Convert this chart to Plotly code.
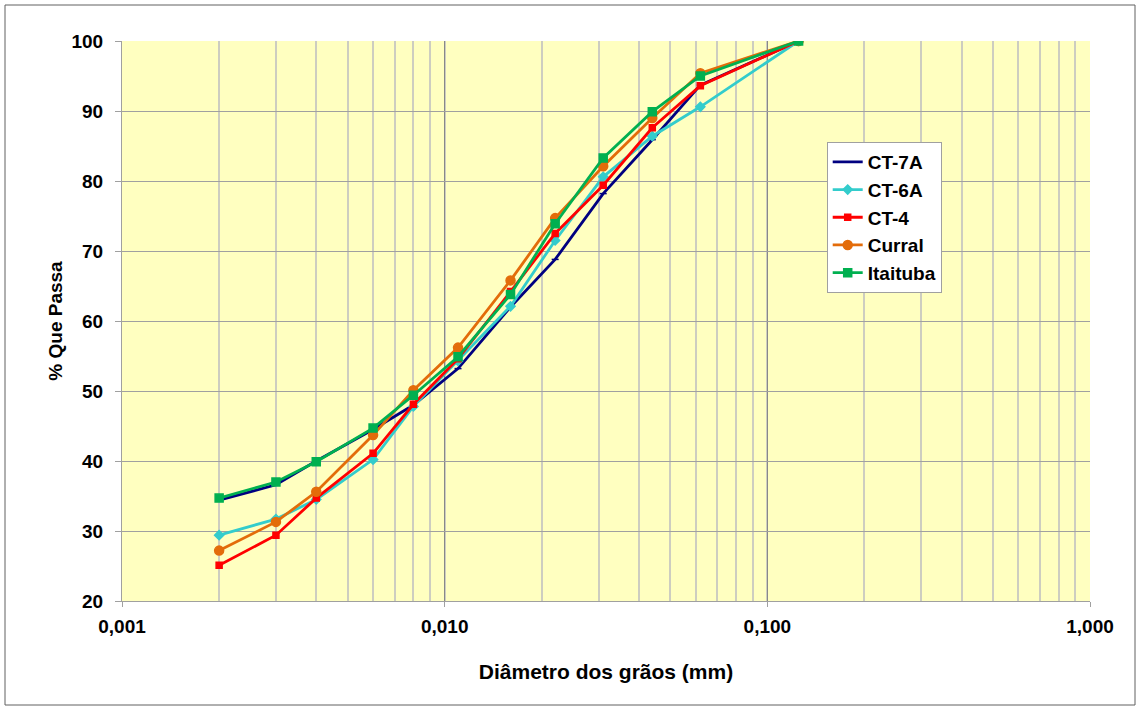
import plotly.graph_objects as go

diam = [0.002, 0.003, 0.004, 0.006, 0.008, 0.011, 0.016, 0.022, 0.031, 0.044, 0.062, 0.125]
ct7a = [34.4, 36.6, 40.0, 44.5, 48.0, 53.2, 62.0, 68.8, 78.2, 85.9, 93.7, 100.0]
ct6a = [29.4, 31.7, 34.5, 40.2, 47.8, 54.3, 62.1, 71.5, 80.6, 86.4, 90.6, 100.0]
ct4 = [25.1, 29.4, 34.7, 41.1, 48.1, 54.6, 64.2, 72.5, 79.4, 87.6, 93.6, 100.0]
curral = [27.2, 31.3, 35.6, 43.7, 50.1, 56.2, 65.8, 74.7, 82.1, 89.0, 95.4, 100.0]
itaituba = [34.7, 37.0, 39.9, 44.7, 49.4, 54.9, 63.8, 73.9, 83.3, 89.9, 95.0, 100.0]

x_tickvals = [0.001, 0.01, 0.1, 1.0]
x_ticktext = ["0,001", "0,010", "0,100", "1,000"]

series = [
    ("CT-7A", ct7a, "#000080", "line-ew", 5),
    ("CT-6A", ct6a, "#33CCCC", "diamond", 7),
    ("CT-4", ct4, "#FF0000", "square", 6),
    ("Curral", curral, "#E36C0A", "circle", 9),
    ("Itaituba", itaituba, "#00B050", "square", 8),
]

fig = go.Figure()
for name, vals, color, sym, size in series:
    fig.add_trace(go.Scatter(
        x=diam, y=vals, name=name, mode="lines+markers", legendgroup=name,
        line=dict(color=color, width=2.8),
        marker=dict(symbol=sym, size=size, color=color,
                    line=dict(color=color, width=1.5)),
    ))

ff = "Liberation Sans, Arial, sans-serif"

fig.update_layout(
    width=1138, height=709,
    margin=dict(l=122, r=48, t=41, b=108),
    paper_bgcolor="white",
    plot_bgcolor="#FFFFC0",
    font=dict(family=ff, size=19, color="black"),
    showlegend=True,
    legend=dict(
        x=0.728, y=0.8196, xanchor="left", yanchor="top",
        bgcolor="white", bordercolor="#A0A0A0", borderwidth=1,
        font=dict(family=ff, size=19, color="black", weight="bold"),
        tracegroupgap=0, itemwidth=30,
    ),
    xaxis=dict(
        type="log", range=[-3, 0],
        tickvals=x_tickvals, ticktext=x_ticktext,
        tickfont=dict(family=ff, size=19, weight="bold"),
        showgrid=True, gridcolor="#888888", gridwidth=1,
        minor=dict(dtick="D1", showgrid=True, gridcolor="#CDCDC0", gridwidth=1.5,
                   ticks=""),
        ticks="outside", ticklen=5, tickcolor="#A0A0A0",
        ticklabelstandoff=3,
        showline=True, linecolor="#A0A0A0", linewidth=1,
        zeroline=False,
        title=dict(text="Diâmetro dos grãos (mm)",
                   font=dict(family=ff, size=21, weight="bold"),
                   standoff=28),
    ),
    yaxis=dict(
        range=[20, 100], dtick=10,
        tickfont=dict(family=ff, size=19, weight="bold"),
        showgrid=True, gridcolor="#A0A0A0", gridwidth=1,
        ticks="outside", ticklen=6, tickcolor="#A0A0A0",
        ticklabelstandoff=8,
        showline=True, linecolor="#A0A0A0", linewidth=1,
        zeroline=False,
        title=dict(text="% Que Passa",
                   font=dict(family=ff, size=19, weight="bold"),
                   standoff=3),
    ),
    shapes=[dict(type="rect", xref="paper", yref="paper",
                 x0=-117/968, x1=1 + 45/968, y0=-104/560, y1=1 + 36/560,
                 line=dict(color="#606060", width=1), fillcolor="rgba(0,0,0,0)",
                 layer="below")],
)

fig.write_html("out.html", config={"displayModeBar": False},
               post_script="document.body.style.margin='0';")
